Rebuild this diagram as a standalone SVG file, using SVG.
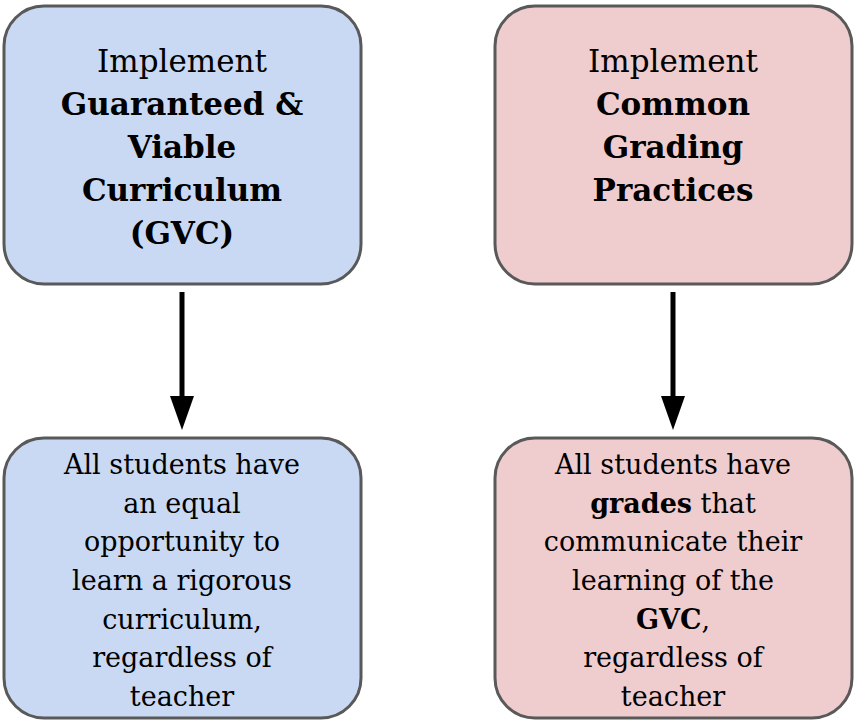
<svg xmlns="http://www.w3.org/2000/svg" width="856" height="722" viewBox="0 0 856 722">
<style>
.box{stroke:#595959;stroke-width:3}
.b{fill:#c9d9f3}.p{fill:#efcccd}
text{font-family:"DejaVu Serif","Liberation Serif",serif;fill:#000;text-anchor:middle}
.t{font-size:31px}.s{font-size:27px}
.bold{font-weight:bold}
</style>
<rect width="856" height="722" fill="#fff"/>
<g id="connectors">
<line x1="182" y1="292" x2="182" y2="400" stroke="#000" stroke-width="5"/>
<polygon points="170,396 194,396 182,430" fill="#000"/>
<line x1="673" y1="292" x2="673" y2="400" stroke="#000" stroke-width="5"/>
<polygon points="661,396 685,396 673,430" fill="#000"/>
</g>
<g id="gvc">
<rect class="box b" x="4" y="6" width="357" height="278" rx="40"/>
<text class="t" x="182" y="72">Implement</text>
<text class="t bold" x="182" y="115">Guaranteed &amp;</text>
<text class="t bold" x="182" y="158">Viable</text>
<text class="t bold" x="182" y="201">Curriculum</text>
<text class="t bold" x="182" y="244">(GVC)</text>
</g>
<g id="grading">
<rect class="box p" x="495" y="6" width="357" height="278" rx="40"/>
<text class="t" x="673" y="72">Implement</text>
<text class="t bold" x="673" y="115">Common</text>
<text class="t bold" x="673" y="158">Grading</text>
<text class="t bold" x="673" y="201">Practices</text>
</g>
<g id="opportunity">
<rect class="box b" x="4" y="438" width="357" height="280" rx="40"/>
<text class="s" x="182" y="474">All students have</text>
<text class="s" x="182" y="513">an equal</text>
<text class="s" x="182" y="551">opportunity to</text>
<text class="s" x="182" y="590">learn a rigorous</text>
<text class="s" x="182" y="629">curriculum,</text>
<text class="s" x="182" y="667">regardless of</text>
<text class="s" x="182" y="706">teacher</text>
</g>
<g id="grades">
<rect class="box p" x="495" y="438" width="357" height="280" rx="40"/>
<text class="s" x="673" y="474">All students have</text>
<text class="s" x="673" y="513"><tspan class="bold">grades</tspan> that</text>
<text class="s" x="673" y="551">communicate their</text>
<text class="s" x="673" y="590">learning of the</text>
<text class="s" x="673" y="629"><tspan class="bold">GVC</tspan>,</text>
<text class="s" x="673" y="667">regardless of</text>
<text class="s" x="673" y="706">teacher</text>
</g>
</svg>
